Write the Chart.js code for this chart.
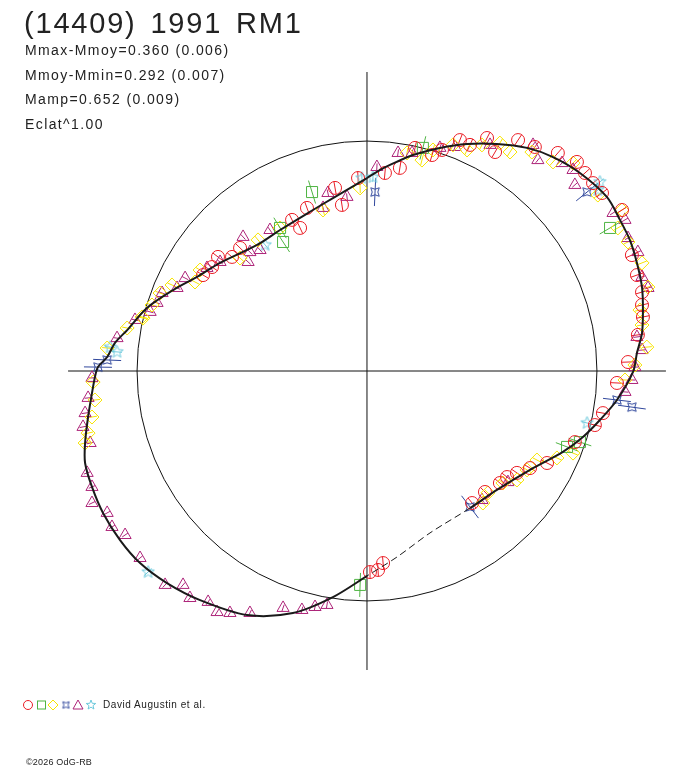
<!DOCTYPE html>
<html>
<head>
<meta charset="utf-8">
<script src="https://cdn.jsdelivr.net/npm/chart.js@4/dist/chart.umd.min.js"></script>
<style>
  body { margin: 0; background: #fff; }
  #wrap { position: relative; width: 688px; height: 768px; }
  #plot { position: absolute; left: 0; top: 0; }
  .txt { position: absolute; font-family: "Liberation Sans", Arial, sans-serif; color: #222; white-space: nowrap; }
  #title { left: 24px; top: 9px; font-size: 29px; line-height: 29px; letter-spacing: 1.8px; word-spacing: 4px; }
  #stats { left: 25px; top: 38px; font-size: 14px; line-height: 24.5px; letter-spacing: 1.4px; }
  #observer { left: 103px; top: 700px; font-size: 10px; line-height: 10px; letter-spacing: 0.55px; }
  #copy { left: 26px; top: 758px; font-size: 9px; line-height: 9px; letter-spacing: 0.2px; }
</style>
</head>
<body>
<div id="wrap">
  <canvas id="plot" width="688" height="768"></canvas>
  <div class="txt" id="title">(14409) 1991 RM1</div>
  <div class="txt" id="stats">Mmax-Mmoy=0.360 (0.006)<br>Mmoy-Mmin=0.292 (0.007)<br>Mamp=0.652 (0.009)<br>Eclat^1.00</div>
  <div class="txt" id="observer">David Augustin et al.</div>
  <div class="txt" id="copy">©2026 OdG-RB</div>
</div>
<script>
// polar light curve, units = mean flux (reference circle radius 1)
const fitCurve = [
  [0.000,0.839],[0.057,0.874],[0.100,0.896],[0.200,0.939],[0.317,0.970],[0.435,0.987],
  [0.565,0.987],[0.696,0.970],[0.809,0.930],[0.926,0.861],[1.043,0.757],[1.100,0.657],
  [1.143,0.570],[1.174,0.470],[1.196,0.365],[1.200,0.265],[1.196,0.165],[1.174,0.078],
  [1.157,-0.004],[1.087,-0.126],[1.013,-0.213],[0.939,-0.287],[0.852,-0.352],[0.709,-0.430],
  [0.565,-0.517],[0.448,-0.596],[0.274,-0.704],[0.130,-0.809],[0.000,-0.891],[-0.148,-0.983],
  [-0.322,-1.052],[-0.522,-1.061],[-0.726,-0.996],[-0.870,-0.922],[-0.987,-0.835],[-1.074,-0.735],
  [-1.148,-0.617],[-1.196,-0.504],[-1.226,-0.400],[-1.226,-0.313],[-1.213,-0.200],[-1.196,-0.096],
  [-1.183,-0.026],[-1.170,0.017],[-1.130,0.061],[-1.096,0.122],[-1.043,0.178],[-0.957,0.274],
  [-0.843,0.352],[-0.739,0.409],[-0.639,0.470],[-0.478,0.548],[-0.378,0.613],[-0.235,0.700],
  [-0.148,0.752]
];
// segments of the fit without data (drawn dashed)
const fitGap = [25, 26, 27];

const redCircles = [
  [-0.139,0.796],[-0.109,0.722],[-0.039,0.839],[0.078,0.861],[-0.261,0.709],[-0.291,0.622],
  [-0.326,0.657],[-0.552,0.535],[-0.587,0.496],[-0.648,0.496],[-0.713,0.417],[-0.674,0.452],
  [0.143,0.883],[0.209,0.970],[0.283,0.939],[0.326,0.961],[0.404,1.004],[0.448,0.983],
  [0.522,1.013],[0.557,0.952],[0.657,1.004],[0.730,0.974],[0.830,0.948],[0.913,0.909],
  [0.948,0.861],[0.983,0.817],[1.022,0.774],[1.152,0.504],[1.109,0.700],[1.174,0.417],
  [1.196,0.343],[1.196,0.287],[1.200,0.235],[1.178,0.157],[1.135,0.039],[1.087,-0.052],
  [1.026,-0.183],[0.991,-0.235],[0.904,-0.309],[0.783,-0.400],[0.709,-0.422],[0.652,-0.443],
  [0.609,-0.461],[0.578,-0.487],[0.513,-0.526],[0.457,-0.574],[0.070,-0.835],[0.048,-0.865],
  [0.013,-0.874]
];
const greenSquares = [
  [-0.239,0.778],[-0.378,0.622],[-0.365,0.561],[0.243,0.970],[1.057,0.622],[0.870,-0.330],
  [0.926,-0.309],[-0.030,-0.930]
];
const yellowDiamonds = [
  [-0.030,0.796],[-0.191,0.700],[-0.378,0.622],[-0.474,0.570],[-0.552,0.491],[-0.726,0.439],
  [-0.748,0.387],[-0.848,0.374],[-0.900,0.339],[-0.935,0.287],[-0.974,0.230],[-1.043,0.187],
  [0.174,0.948],[0.239,0.917],[0.287,0.961],[0.374,0.983],[0.435,0.961],[0.500,0.983],
  [0.578,0.991],[0.622,0.952],[0.717,0.952],[0.809,0.909],[0.896,0.904],[1.004,0.765],
  [1.109,0.700],[1.091,0.622],[1.135,0.561],[1.196,0.470],[1.222,0.365],[1.187,0.265],
  [1.196,0.200],[1.217,0.104],[1.165,0.026],[1.122,-0.039],[0.896,-0.357],[0.826,-0.378],
  [0.739,-0.387],[0.696,-0.430],[0.652,-0.474],[0.591,-0.487],[0.526,-0.530],[0.504,-0.574],
  [-0.978,0.235],[-1.130,0.100],[-1.191,-0.048],[-1.183,-0.126],[-1.196,-0.200],[-1.213,-0.270],
  [-1.226,-0.313]
];
const blueStars = [
  [0.035,0.778],[0.957,0.778],[1.087,-0.126],[1.152,-0.157],[0.448,-0.591],[-1.130,0.048],
  [-1.170,0.017]
];
const purpleTriangles = [
  [-0.170,0.774],[-0.087,0.757],[-0.191,0.709],[-0.539,0.583],[-0.422,0.613],[-0.465,0.526],
  [-0.509,0.517],[-0.517,0.474],[-0.639,0.474],[-0.696,0.448],[-0.791,0.404],[-0.826,0.361],
  [-0.891,0.339],[-0.913,0.296],[-0.943,0.257],[-1.009,0.222],[0.043,0.887],[0.135,0.948],
  [0.196,0.948],[0.317,0.970],[0.383,0.974],[0.535,0.983],[0.722,0.983],[0.743,0.917],
  [0.848,0.904],[0.896,0.874],[0.904,0.809],[1.070,0.687],[1.122,0.657],[1.135,0.578],
  [1.178,0.517],[1.196,0.409],[1.222,0.361],[1.174,0.148],[1.196,0.091],[1.165,0.017],
  [1.152,-0.039],[1.122,-0.091],[0.613,-0.483],[0.500,-0.561],[-1.087,0.143],[-1.196,-0.030],
  [-1.213,-0.117],[-1.226,-0.183],[-1.235,-0.243],[-1.204,-0.313],[-1.217,-0.443],[-1.196,-0.504],
  [-1.196,-0.574],[-1.130,-0.617],[-1.109,-0.678],[-1.052,-0.713],[-0.987,-0.813],[-0.878,-0.930],
  [-0.800,-0.930],[-0.770,-0.987],[-0.691,-1.004],[-0.652,-1.048],[-0.596,-1.052],[-0.509,-1.052],
  [-0.365,-1.030],[-0.283,-1.039],[-0.226,-1.026],[-0.174,-1.017]
];
const cyanStars = [
  [-0.443,0.548],[-0.022,0.839],[0.026,0.843],[1.013,0.822],[1.004,0.787],[0.957,-0.226],
  [-1.117,0.104],[-1.087,0.083],[-0.952,-0.874]
];

const axisReach = 1.3;
const xRange = [-1.596, 1.396];
const yRange = [-1.726, 1.613];

function toPoints(arr) {
    return arr.map((p) => ({ x: p[0], y: p[1] }));
}

function makeStar(tips, outer, inner, color) {
    const c = document.createElement('canvas');
    const size = Math.ceil(outer * 2 + 4);
    c.width = size;
    c.height = size;
    const g = c.getContext('2d');
    const start = tips === 4 ? Math.PI / 4 : -Math.PI / 2;
    g.strokeStyle = color;
    g.lineWidth = 1;
    g.beginPath();
    for (let i = 0; i < tips * 2; i++) {
        const r = i % 2 === 0 ? outer : inner;
        const a = start + i * Math.PI / tips;
        const px = size / 2 + Math.cos(a) * r;
        const py = size / 2 + Math.sin(a) * r;
        if (i === 0) g.moveTo(px, py); else g.lineTo(px, py);
    }
    g.closePath();
    g.stroke();
    return c;
}

const colors = {
    red: '#ea1d25',
    green: '#4fb443',
    yellow: '#f7e400',
    blue: '#30479c',
    purple: '#ad2479',
    cyan: '#6ec9dc',
};

const blueStarImg = makeStar(4, 6, 2.8, colors.blue);
const cyanStarImg = makeStar(5, 6.5, 2.8, colors.cyan);
const blueStarSmall = makeStar(4, 4.5, 2.1, colors.blue);
const cyanStarSmall = makeStar(5, 5, 2.1, colors.cyan);

// radial error bar through each point
function barDataset(arr, color, half) {
    return {
        data: toPoints(arr),
        pointStyle: 'line',
        pointRadius: half,
        borderColor: color,
        borderWidth: 1,
        rotation: (ctx) => {
            const p = ctx.raw;
            return Math.atan2(-p.y, p.x) * 180 / Math.PI;
        },
        showLine: false,
        order: 3,
    };
}

function markerDataset(arr, color, style, radius) {
    return {
        data: toPoints(arr),
        pointStyle: style,
        pointRadius: radius,
        borderColor: color,
        backgroundColor: 'rgba(0,0,0,0)',
        borderWidth: 1,
        showLine: false,
        order: 2,
    };
}

const refCircle = {
    id: 'refCircle',
    beforeDatasetsDraw(chart) {
        const { ctx, scales: { x, y } } = chart;
        const cx = x.getPixelForValue(0);
        const cy = y.getPixelForValue(0);
        const r = x.getPixelForValue(1) - cx;
        ctx.save();
        ctx.strokeStyle = '#111';
        ctx.lineWidth = 1;
        ctx.beginPath();
        ctx.arc(cx, cy, r, 0, Math.PI * 2);
        ctx.stroke();
        ctx.restore();
    },
};

// the row of symbols in front of the observer name
const symbolRow = {
    id: 'symbolRow',
    afterDraw(chart) {
        const ctx = chart.ctx;
        const y = 705;
        ctx.save();
        ctx.lineWidth = 1;
        ctx.strokeStyle = colors.red;
        ctx.beginPath(); ctx.arc(28, y, 4.5, 0, Math.PI * 2); ctx.stroke();
        ctx.strokeStyle = colors.green;
        ctx.strokeRect(37.5, y - 4, 8, 8);
        ctx.strokeStyle = colors.yellow;
        ctx.beginPath();
        ctx.moveTo(53, y - 5); ctx.lineTo(58, y); ctx.lineTo(53, y + 5); ctx.lineTo(48, y);
        ctx.closePath(); ctx.stroke();
        ctx.drawImage(blueStarSmall, 66 - blueStarSmall.width / 2, y - blueStarSmall.height / 2);
        ctx.strokeStyle = colors.purple;
        ctx.beginPath();
        ctx.moveTo(78, y - 5); ctx.lineTo(83, y + 4); ctx.lineTo(73, y + 4);
        ctx.closePath(); ctx.stroke();
        ctx.drawImage(cyanStarSmall, 91 - cyanStarSmall.width / 2, y - cyanStarSmall.height / 2);
        ctx.restore();
    },
};

const fitPoints = toPoints(fitCurve);
fitPoints.push(fitPoints[0]);

const datasets = [
    {
        data: [{ x: -axisReach, y: 0 }, { x: axisReach, y: 0 }],
        showLine: true, pointRadius: 0, borderColor: '#111', borderWidth: 1, order: 5,
    },
    {
        data: [{ x: 0, y: -axisReach }, { x: 0, y: axisReach }],
        showLine: true, pointRadius: 0, borderColor: '#111', borderWidth: 1, order: 5,
    },
    barDataset(greenSquares, colors.green, 12),
    barDataset(blueStars, colors.blue, 14),
    barDataset(redCircles, colors.red, 6.5),
    barDataset(yellowDiamonds, colors.yellow, 5),
    barDataset(purpleTriangles, colors.purple, 3.5),
    barDataset(cyanStars, colors.cyan, 5),
    markerDataset(redCircles, colors.red, 'circle', 6.5),
    markerDataset(greenSquares, colors.green, 'rect', 7.8),
    markerDataset(yellowDiamonds, colors.yellow, 'rectRot', 7),
    markerDataset(purpleTriangles, colors.purple, 'triangle', 7),
    markerDataset(blueStars, colors.blue, blueStarImg, 6),
    markerDataset(cyanStars, colors.cyan, cyanStarImg, 6.5),
    {
        data: fitPoints,
        showLine: true,
        pointRadius: 0,
        borderColor: '#1a1a1a',
        borderWidth: 2,
        tension: 0.3,
        segment: {
            borderDash: (ctx) => (fitGap.includes(ctx.p0DataIndex) ? [7, 4] : undefined),
            borderWidth: (ctx) => (fitGap.includes(ctx.p0DataIndex) ? 1 : undefined),
        },
        order: 1,
    },
];

new Chart(document.getElementById('plot'), {
    type: 'scatter',
    data: { datasets: datasets },
    options: {
        responsive: false,
        animation: false,
        devicePixelRatio: 1,
        layout: { padding: 0, autoPadding: false },
        scales: {
            x: { type: 'linear', display: false, min: xRange[0], max: xRange[1] },
            y: { type: 'linear', display: false, min: yRange[0], max: yRange[1] },
        },
        plugins: {
            legend: { display: false },
            tooltip: { enabled: false },
        },
        elements: { line: { fill: false } },
    },
    plugins: [refCircle, symbolRow],
});
</script>
</body>
</html>
